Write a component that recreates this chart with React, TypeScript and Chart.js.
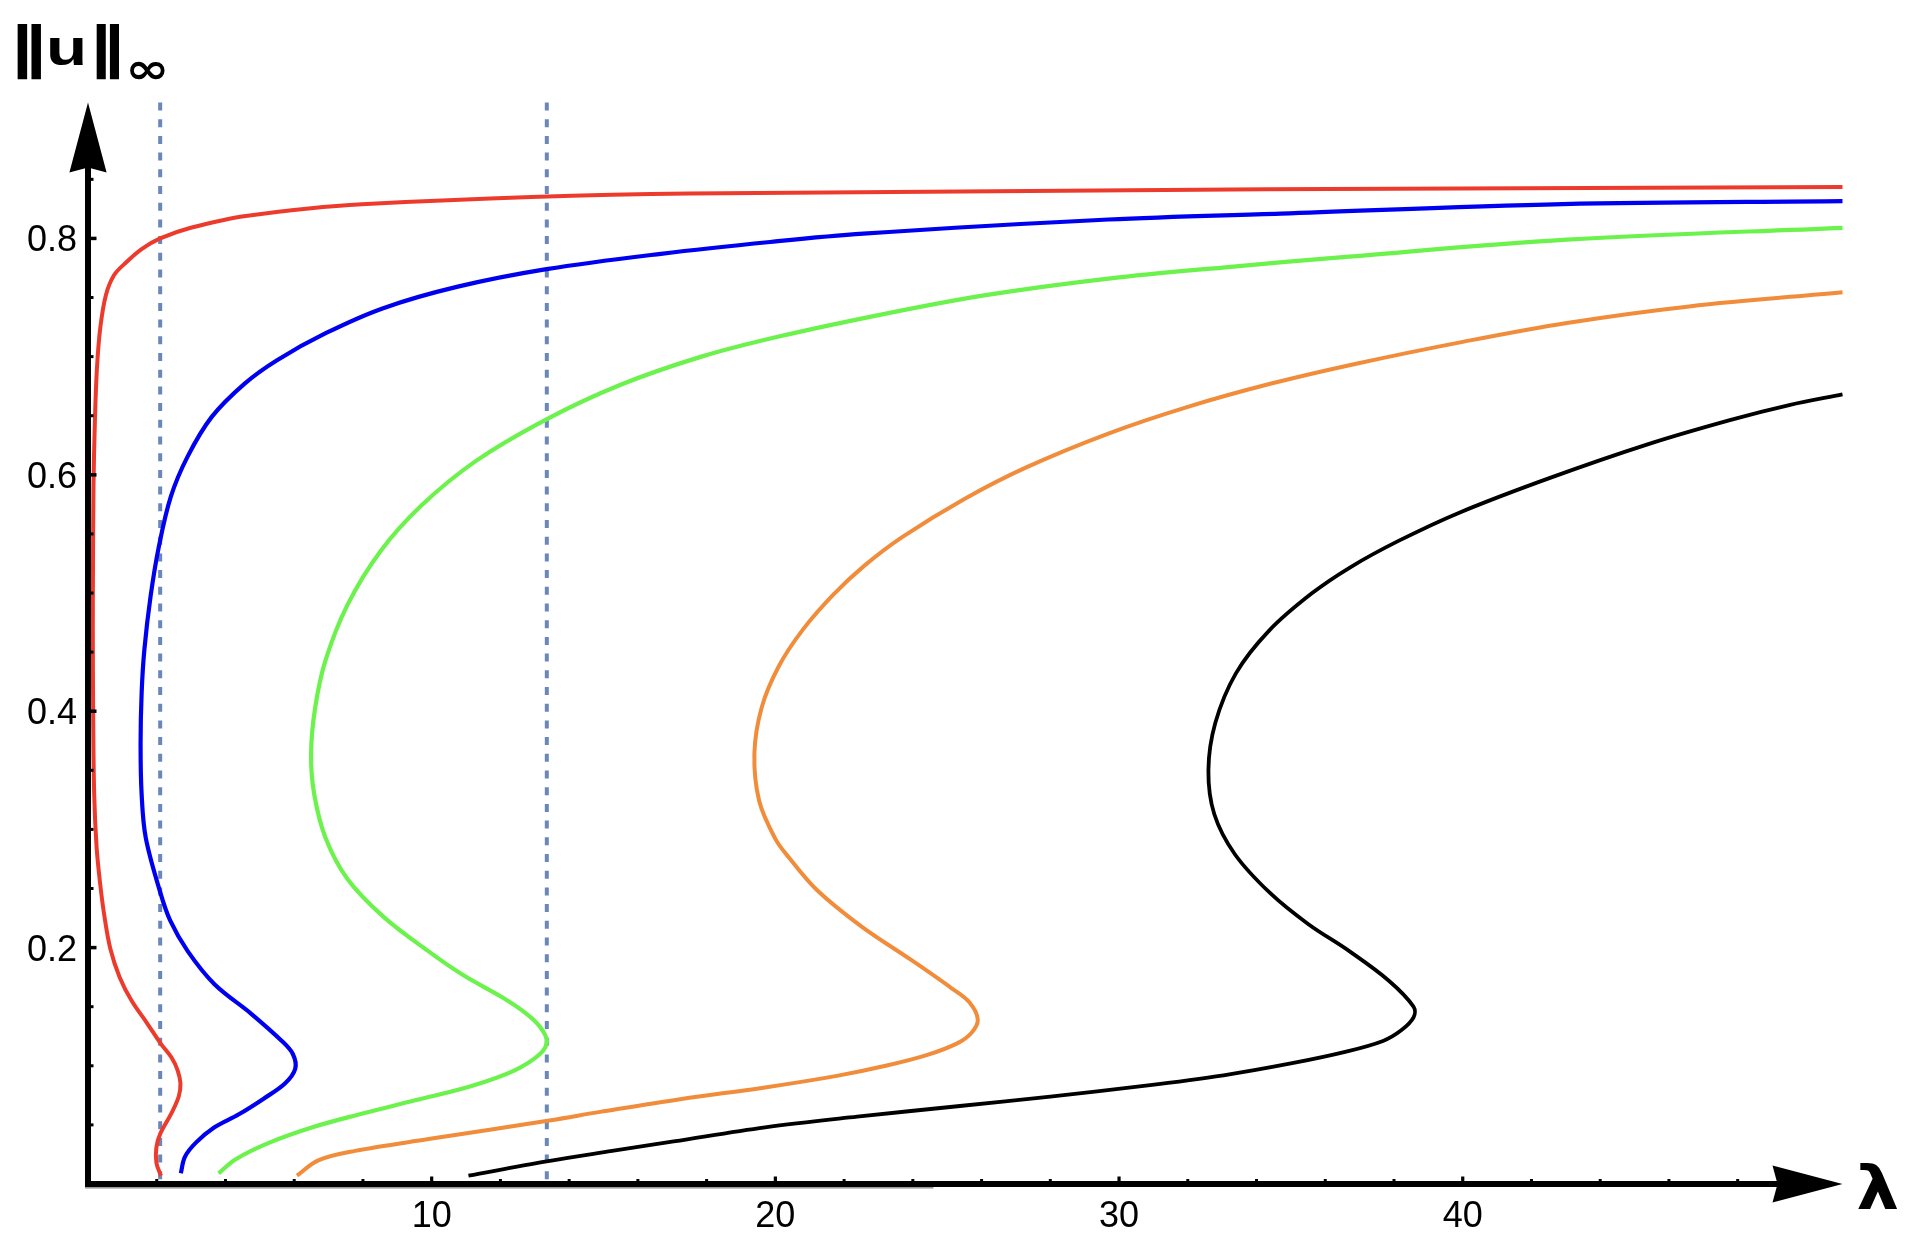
import { useEffect, useRef } from "react";
import { Chart, registerables } from "chart.js";

Chart.register(...registerables);

const W = 1921;
const H = 1252;

// axis extents (arrow tips)
const X_MAX = 51.05;
const Y_MAX = 0.915;

// tick labels
const X_TICK_LABELS = [10, 20, 30, 40];
const X_MINOR_TICKS = [2, 4, 6, 8, 12, 14, 16, 18, 22, 24, 26, 28, 32, 34, 36, 38, 42, 44, 46, 48];
const Y_TICK_LABELS = [0.2, 0.4, 0.6, 0.8];
const Y_MINOR_TICKS = [0.05, 0.1, 0.15, 0.25, 0.3, 0.35, 0.45, 0.5, 0.55, 0.65, 0.7, 0.75, 0.85];

// vertical dotted reference lines (lambda values)
const DASH_LAMBDAS = [2.1, 13.35];

// bifurcation curves: [lambda, ||u||_inf]
const redCurve: [number, number][] = [
  [2.12, 0.007], [1.99, 0.018], [1.99, 0.031], [2.11, 0.043], [2.43, 0.06], [2.64, 0.074],
  [2.69, 0.085], [2.61, 0.096], [2.43, 0.107], [2.11, 0.119], [1.72, 0.136], [1.27, 0.155],
  [0.92, 0.175], [0.65, 0.199], [0.47, 0.228], [0.35, 0.255], [0.25, 0.285], [0.18, 0.33],
  [0.15, 0.4], [0.14, 0.47], [0.145, 0.52], [0.16, 0.59], [0.2, 0.645], [0.26, 0.69],
  [0.36, 0.725], [0.52, 0.752], [0.76, 0.769], [1.12, 0.78], [1.56, 0.791], [2.1, 0.8],
  [2.99, 0.809], [4.59, 0.819], [7.97, 0.829], [17.5, 0.838], [51.05, 0.8435],
];

const blueCurve: [number, number][] = [
  [2.7, 0.009], [2.82, 0.023], [3.14, 0.035], [3.68, 0.048], [4.39, 0.059], [5.1, 0.072],
  [5.73, 0.085], [6.03, 0.0975], [5.96, 0.11], [5.64, 0.121], [4.75, 0.144], [3.68, 0.169],
  [2.9, 0.197], [2.39, 0.223], [2.1, 0.247], [1.68, 0.293], [1.56, 0.33], [1.53, 0.372],
  [1.56, 0.415], [1.64, 0.452], [1.82, 0.497], [2.06, 0.539], [2.41, 0.5815], [2.89, 0.615],
  [3.6, 0.649], [4.55, 0.677], [5.5, 0.697], [6.93, 0.72], [8.59, 0.741], [10.73, 0.759],
  [13.34, 0.774], [16.67, 0.787], [19.85, 0.797], [22.56, 0.804], [29.69, 0.816],
  [34.71, 0.821], [42.91, 0.829], [51.05, 0.8315],
];

const greenCurve: [number, number][] = [
  [3.8, 0.009], [4.3, 0.021], [5.28, 0.035], [6.53, 0.048], [7.77, 0.058], [9.55, 0.071],
  [11.16, 0.083], [12.4, 0.096], [13.15, 0.11], [13.35, 0.121], [13.15, 0.133], [12.76, 0.144],
  [12.05, 0.158], [10.9, 0.177], [9.9, 0.197], [8.6, 0.226], [7.55, 0.258], [6.91, 0.293],
  [6.58, 0.33], [6.49, 0.364], [6.61, 0.403], [6.91, 0.443], [7.55, 0.49], [8.5, 0.535],
  [9.7, 0.574], [11.3, 0.612], [13.34, 0.647], [15.48, 0.676], [17.85, 0.7], [20.1, 0.717],
  [23.15, 0.736], [26.12, 0.752], [29.69, 0.766], [33.25, 0.776], [36.43, 0.784],
  [43.03, 0.799], [51.05, 0.809],
];

const orangeCurve: [number, number][] = [
  [6.08, 0.007], [6.7, 0.02], [7.77, 0.028], [9.91, 0.038], [13.47, 0.054], [14.9, 0.061],
  [17.27, 0.072], [19.65, 0.0815], [21.79, 0.0915], [23.21, 0.1], [24.4, 0.109], [25.29, 0.119],
  [25.71, 0.128], [25.89, 0.139], [25.65, 0.1536], [25.11, 0.166], [23.93, 0.19], [22.5, 0.218],
  [21.2, 0.249], [20.4, 0.276], [20.0, 0.292], [19.53, 0.324], [19.39, 0.364], [19.6, 0.403],
  [20.1, 0.438], [20.8, 0.469], [21.7, 0.499], [22.6, 0.5234], [23.7, 0.5475], [25.5, 0.5796],
  [27.3, 0.6063], [29.65, 0.6345], [32.0, 0.6575], [34.4, 0.677], [36.9, 0.694], [40.0, 0.7125],
  [43.03, 0.7285], [46.59, 0.7425], [51.05, 0.7545],
];

const blackCurve: [number, number][] = [
  [11.07, 0.007], [13.3, 0.019], [15.25, 0.028], [17.04, 0.036], [19.7, 0.048], [22.38, 0.057],
  [25.37, 0.066], [28.0, 0.074], [30.72, 0.083], [33.04, 0.092], [35.0, 0.102], [36.61, 0.112],
  [37.68, 0.121], [38.21, 0.13], [38.57, 0.141], [38.57, 0.15], [37.85, 0.172], [36.7, 0.197],
  [35.5, 0.22], [34.4, 0.246], [33.37, 0.279], [32.77, 0.313], [32.6, 0.35], [32.8, 0.39],
  [33.4, 0.432], [34.36, 0.468], [35.6, 0.4995], [36.74, 0.522], [38.16, 0.5445], [39.9, 0.568],
  [42.5, 0.597], [45.4, 0.626], [47.8, 0.6465], [49.5, 0.659], [51.05, 0.668],
];

const SERIES = [
  { name: "red", pts: redCurve, color: "#ec3b2c", width: 4 },
  { name: "blue", pts: blueCurve, color: "#0000f0", width: 4.2 },
  { name: "green", pts: greenCurve, color: "#6cf24c", width: 4.2 },
  { name: "orange", pts: orangeCurve, color: "#f08c3a", width: 4 },
  { name: "black", pts: blackCurve, color: "#000000", width: 3.8 },
];

function drawFit(
  ctx: CanvasRenderingContext2D,
  text: string,
  font: string,
  left: number,
  top: number,
  width: number,
  height: number
) {
  ctx.save();
  ctx.textAlign = "left";
  ctx.textBaseline = "alphabetic";
  ctx.font = font.replace("{s}", "100px");
  const m = ctx.measureText(text);
  const h = m.actualBoundingBoxAscent + m.actualBoundingBoxDescent;
  const w = m.actualBoundingBoxLeft + m.actualBoundingBoxRight;
  const sy = height / h;
  const sx = width / w;
  ctx.translate(left, top);
  ctx.scale(sx, sy);
  ctx.fillText(text, m.actualBoundingBoxLeft, m.actualBoundingBoxAscent);
  ctx.restore();
}

const decorPlugin = {
  id: "mathDecor",
  afterDatasetsDraw(chart: any) {
    const ctx: CanvasRenderingContext2D = chart.ctx;
    const xs = chart.scales.x;
    const ys = chart.scales.y;
    const x0 = xs.getPixelForValue(0);
    const y0 = ys.getPixelForValue(0);
    const xTip = xs.getPixelForValue(X_MAX);
    const yTip = ys.getPixelForValue(Y_MAX);
    ctx.save();
    ctx.fillStyle = "#000";
    ctx.strokeStyle = "#000";
    ctx.lineCap = "butt";

    // faint doubled segment under the x axis
    ctx.fillStyle = "rgba(0,0,0,0.4)";
    ctx.fillRect(x0 - 3, y0 + 3, xs.getPixelForValue(24.6) - x0 + 3, 1.6);
    ctx.fillStyle = "#000";

    // axis lines
    ctx.lineWidth = 6;
    ctx.beginPath();
    ctx.moveTo(x0 - 3, y0);
    ctx.lineTo(xTip - 60, y0);
    ctx.stroke();
    ctx.beginPath();
    ctx.moveTo(x0, y0 + 3);
    ctx.lineTo(x0, yTip + 60);
    ctx.stroke();

    // arrow heads
    const aLen = 70;
    const aHalf = 18.6;
    const notch = 5;
    ctx.beginPath();
    ctx.moveTo(xTip, y0);
    ctx.lineTo(xTip - aLen, y0 - aHalf);
    ctx.lineTo(xTip - aLen + notch, y0);
    ctx.lineTo(xTip - aLen, y0 + aHalf);
    ctx.closePath();
    ctx.fill();
    ctx.beginPath();
    ctx.moveTo(x0, yTip);
    ctx.lineTo(x0 - aHalf, yTip + aLen);
    ctx.lineTo(x0, yTip + aLen - notch);
    ctx.lineTo(x0 + aHalf, yTip + aLen);
    ctx.closePath();
    ctx.fill();

    // x ticks (inward)
    for (const v of X_MINOR_TICKS) {
      const px = xs.getPixelForValue(v);
      ctx.fillRect(px - 1.5, y0 - 5, 3, 5);
    }
    for (const v of X_TICK_LABELS) {
      const px = xs.getPixelForValue(v);
      ctx.fillRect(px - 1.6, y0 - 7.5, 3.2, 7.5);
    }
    // y ticks (inward)
    for (const v of Y_MINOR_TICKS) {
      const py = ys.getPixelForValue(v);
      ctx.fillRect(x0, py - 1.5, 5.5, 3);
    }
    for (const v of Y_TICK_LABELS) {
      const py = ys.getPixelForValue(v);
      ctx.fillRect(x0, py - 1.75, 8.5, 3.5);
    }

    // tick labels
    ctx.font = "36px 'Liberation Sans', Arial, sans-serif";
    ctx.textBaseline = "alphabetic";
    ctx.textAlign = "center";
    for (const v of X_TICK_LABELS) {
      ctx.fillText(String(v), xs.getPixelForValue(v), y0 + 43);
    }
    ctx.textAlign = "right";
    for (const v of Y_TICK_LABELS) {
      ctx.fillText(v.toFixed(1), x0 - 11, ys.getPixelForValue(v) + 12.9);
    }

    // axis titles
    drawFit(ctx, "\u2016", "bold {s} 'DejaVu Sans'", x0 - 71, 24, 24, 55.5);
    drawFit(ctx, "u", "bold {s} 'Liberation Sans'", x0 - 38, 39, 33, 26.5);
    drawFit(ctx, "\u2016", "bold {s} 'DejaVu Sans'", x0 + 8, 24, 23, 55.5);
    drawFit(ctx, "\u221e", "bold {s} 'DejaVu Sans'", x0 + 42, 62, 35, 18);
    drawFit(ctx, "\u03bb", "bold {s} 'DejaVu Sans'", xTip + 15, y0 - 21, 40, 47);

    ctx.restore();
  },
};

export default function App() {
  const ref = useRef<HTMLCanvasElement>(null);

  useEffect(() => {
    const canvas = ref.current;
    if (!canvas) return;

    const curveSets = SERIES.map((s, i) => ({
      label: s.name,
      data: s.pts.map(([l, u]) => ({ x: l, y: u })),
      borderColor: s.color,
      backgroundColor: s.color,
      borderWidth: s.width,
      showLine: true,
      pointRadius: 0,
      pointHoverRadius: 0,
      tension: 0.35,
      clip: false as any,
      order: i + 1,
    }));

    const dashSets = DASH_LAMBDAS.map((l, i) => ({
      label: `dash${i}`,
      data: [
        { x: l, y: Y_MAX },
        { x: l, y: 0 },
      ],
      borderColor: "#6a87bb",
      backgroundColor: "#6a87bb",
      borderWidth: 4,
      borderDash: [8, 8.7],
      showLine: true,
      pointRadius: 0,
      pointHoverRadius: 0,
      tension: 0,
      clip: false as any,
      order: 20,
    }));

    const chart = new Chart(canvas, {
      type: "scatter",
      data: { datasets: [...curveSets, ...dashSets] as any },
      options: {
        responsive: false,
        maintainAspectRatio: false,
        animation: false,
        events: [],
        layout: {
          padding: { left: 88, right: W - 1842.5, top: 102.5, bottom: H - 1184 },
        },
        plugins: {
          legend: { display: false },
          tooltip: { enabled: false },
        },
        scales: {
          x: { type: "linear", min: 0, max: X_MAX, display: false },
          y: { type: "linear", min: 0, max: Y_MAX, display: false },
        },
      },
      plugins: [decorPlugin],
    });

    return () => chart.destroy();
  }, []);

  return (
    <div
      style={{
        position: "fixed",
        left: 0,
        top: 0,
        width: W,
        height: H,
        background: "#ffffff",
      }}
    >
      <canvas ref={ref} width={W} height={H} style={{ display: "block", width: W, height: H }} />
    </div>
  );
}
